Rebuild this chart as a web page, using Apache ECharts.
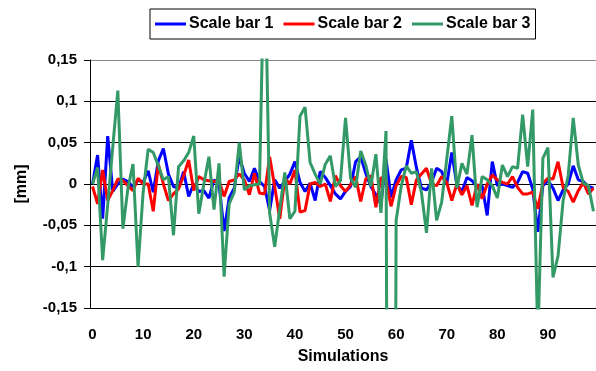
<!DOCTYPE html>
<html>
<head>
<meta charset="utf-8">
<script src="https://cdn.jsdelivr.net/npm/echarts@6/dist/echarts.min.js"></script>
<style>
  html, body { margin: 0; padding: 0; background: #fff; }
  #chart { width: 596px; height: 371px; }
</style>
</head>
<body>
<div id="chart"></div>
<script>
// simulation index 0..99
const simulations = Array.from({ length: 100 }, (_, i) => String(i));

const seriesNames = ['Scale bar 1', 'Scale bar 2', 'Scale bar 3'];

// Scale bar 1 (blue)
const scaleBar1 = [
  0, 0.035, -0.042, 0.058, -0.009, 0, 0.006, 0.003, -0.004, 0.005,
  0.002, 0.016, -0.01, 0.028, 0.043, 0.012, -0.003, -0.005, 0.015, -0.015,
  0, -0.009, -0.008, -0.017, 0.005, 0, -0.057, -0.017, -0.005, 0.033,
  0.013, 0.003, 0.019, 0.003, -0.003, -0.032, 0.005, -0.005, 0.003, 0.012,
  0.027, 0.002, -0.009, 0.001, -0.02, 0.015, 0.008, -0.002, -0.012, -0.018,
  -0.009, -0.003, 0.027, 0.033, 0.013, -0.003, -0.013, -0.024, 0.03, -0.016,
  0.005, 0.017, 0.019, 0.053, 0.02, -0.005, -0.007, 0.002, 0.019, 0.015,
  0, 0.038, -0.001, -0.009, 0.008, 0.004, -0.004, -0.002, -0.038, 0.027,
  -0.002, 0, -0.002, -0.004, 0.002, 0.015, 0.013, -0.006, -0.058, -0.002,
  0.004, -0.005, -0.02, -0.007, 0, 0.022, 0.005, 0.003, -0.003, -0.005
];

// Scale bar 2 (red)
const scaleBar2 = [
  -0.003, -0.024, 0.017, -0.02, -0.008, 0.006, 0.004, -0.002, -0.008, 0.007,
  0, 0, -0.033, 0.024, 0, -0.02, -0.012, -0.006, 0.01, 0.029,
  -0.008, 0.009, 0.005, 0.004, 0.003, 0.004, -0.015, 0.003, 0.005, 0.012,
  0.005, -0.013, 0.013, -0.011, -0.012, 0.033, -0.003, -0.042, 0.007, 0,
  0.017, -0.034, -0.032, 0, 0.002, -0.003, 0, -0.021, 0.01, -0.002,
  -0.009, -0.001, 0.009, -0.021, 0.006, 0.01, -0.028, 0.008, 0.004, -0.027,
  -0.002, 0.009, 0.008, -0.025, 0.005, 0.012, 0.019, 0, -0.002, 0.009,
  0.002, -0.02, 0, -0.013, -0.002, -0.026, 0, -0.018, 0, 0.011,
  0.005, 0.002, 0, 0.009, -0.004, -0.012, -0.012, -0.01, -0.03, 0.001,
  0.007, 0.006, 0.027, -0.004, -0.009, -0.022, -0.008, 0.002, -0.012, -0.005
];

// Scale bar 3 (green), a few points run far off the axis range
const scaleBar3 = [
  0, 0.02, -0.092, -0.025, 0.045, 0.113, -0.054, -0.005, 0.024, -0.1,
  -0.01, 0.042, 0.038, 0.022, 0.005, 0.009, -0.062, 0.021, 0.028, 0.038,
  0.058, -0.036, 0, 0.033, -0.031, 0.025, -0.112, -0.024, -0.01, 0.05,
  -0.007, -0.002, -0.001, 0, 0.3, -0.035, -0.076, -0.03, 0.014, -0.042,
  -0.033, 0.082, 0.093, 0.026, 0.012, 0, 0.024, 0.034, -0.003, 0.004,
  0.08, 0.007, -0.004, 0.04, 0.023, -0.003, 0.036, -0.035, 0.064, -1.7,
  -0.044, -0.003, 0.022, 0.013, 0.015, -0.01, -0.059, 0.019, -0.044, -0.022,
  0.03, 0.082, -0.005, 0.025, 0.012, 0.059, -0.028, 0.009, 0.005, -0.002,
  -0.017, 0.023, 0.009, 0.021, 0.019, 0.084, 0.021, 0.09, -0.19, 0.031,
  0.044, -0.113, -0.087, -0.02, 0.01, 0.08, 0.023, 0.001, -0.002, -0.033
];

const colors = ['#0000ff', '#ff0000', '#339966'];
const font = '"Liberation Sans", Arial, sans-serif';

const chart = echarts.init(document.getElementById('chart'));

// 0.05 -> "0,05"
const fmt = v => {
  const r = Math.round(v * 100) / 100;
  return String(r).replace('.', ',');
};

chart.setOption({
  animation: false,
  color: colors,
  textStyle: { fontFamily: font },
  legend: {
    data: seriesNames,
    left: 150,
    top: 9,
    padding: [7, 5, 7, 5],
    itemGap: 10,
    itemWidth: 31,
    itemHeight: 3,
    icon: 'rect',
    borderColor: '#000',
    borderWidth: 1,
    backgroundColor: '#fff',
    textStyle: { fontFamily: font, fontWeight: 'bold', fontSize: 16, color: '#000', padding: [0, 0, 0, -2] }
  },
  grid: { left: 90, top: 60, width: 509, height: 248 },
  xAxis: {
    type: 'category',
    data: simulations,
    boundaryGap: true,
    name: 'Simulations',
    nameLocation: 'middle',
    nameGap: 41,
    nameTextStyle: { fontFamily: font, fontWeight: 'bold', fontSize: 16, color: '#000' },
    axisLine: { lineStyle: { color: '#000', width: 1 } },
    axisTick: { interval: 4, length: 5, lineStyle: { color: '#000' } },
    axisLabel: { interval: 9, margin: 19, fontFamily: font, fontWeight: 'bold', fontSize: 15, color: '#000' },
    splitLine: { show: false }
  },
  yAxis: {
    type: 'value',
    min: -0.15,
    max: 0.15,
    interval: 0.05,
    name: '[mm]',
    nameLocation: 'middle',
    nameGap: 60,
    nameTextStyle: { fontFamily: font, fontWeight: 'bold', fontSize: 16, color: '#000' },
    axisLine: { show: true, lineStyle: { color: '#000', width: 1 } },
    axisTick: { show: true, length: 6, lineStyle: { color: '#000' } },
    axisLabel: { margin: 13, formatter: fmt, fontFamily: font, fontWeight: 'bold', fontSize: 15, color: '#000' },
    splitLine: {
      show: true,
      lineStyle: { color: ['#000', '#000', '#000', '#000', '#000', '#000', '#888'], width: 1 }
    }
  },
  series: [scaleBar1, scaleBar2, scaleBar3].map((d, i) => ({
    name: seriesNames[i],
    type: 'line',
    data: d,
    symbol: 'none',
    clip: true,
    lineStyle: { width: 3, color: colors[i] }
  }))
});
</script>
</body>
</html>
